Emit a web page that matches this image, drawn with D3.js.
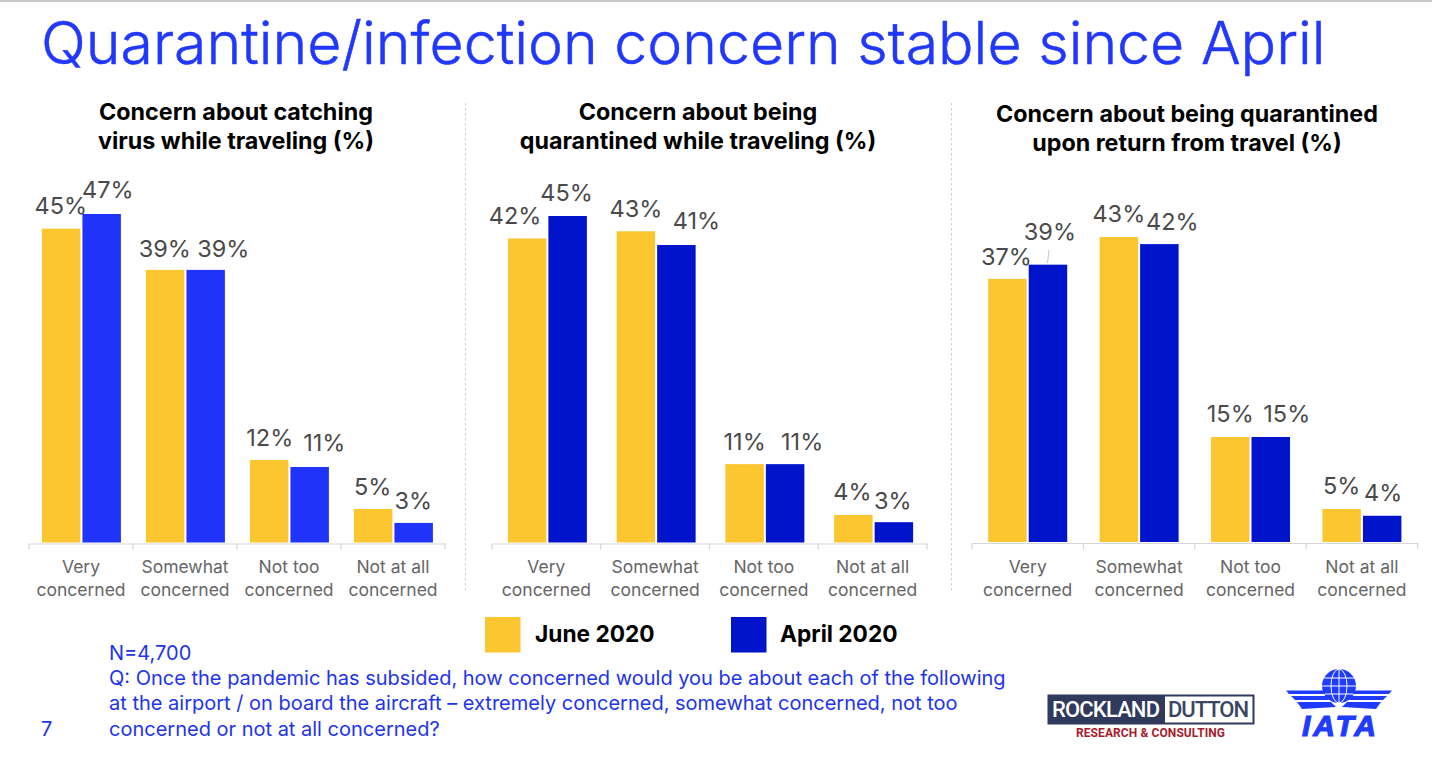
<!DOCTYPE html>
<html><head><meta charset="utf-8">
<script src="https://cdnjs.cloudflare.com/ajax/libs/d3/7.8.5/d3.min.js"></script>
<style>html,body{margin:0;padding:0;background:#fff;overflow:hidden}svg{display:block;font-family:Inter,"Noto Sans",sans-serif}</style>
</head><body><svg id="c" width="1432" height="772"></svg>
<script>
const titleText = "Quarantine/infection concern stable since April";
const categories = ["Very concerned","Somewhat concerned","Not too concerned","Not at all concerned"];
const seriesNames = ["June 2020","April 2020"];
const panelTitles = [
  ["Concern about catching","virus while traveling (%)"],
  ["Concern about being","quarantined while traveling (%)"],
  ["Concern about being quarantined","upon return from travel (%)"]
];
const june1 = [44.9, 39, 11.8, 4.8];
const april1 = [47, 39, 10.8, 2.8];
const june2 = [41.9, 42.9, 10.8, 3.8];
const april2 = [45, 41, 10.8, 2.8];
const june3 = [37.1, 43, 14.8, 4.65];
const april3 = [39.1, 42, 14.8, 3.7];
const footnotes = [
  "N=4,700",
  "Q: Once the pandemic has subsided, how concerned would you be about each of the following",
  "at the airport / on board the aircraft – extremely concerned, somewhat concerned, not too",
  "concerned or not at all concerned?"
];

const svg = d3.select("#c");
const YEL="#FCC630", BLUE_LIGHT="#1F33FB", BLUE_DARK="#0014CC", TXT="#4a4a4a", LINK="#2233EE";

// page edge
svg.append("rect").attr("width",1432).attr("height",2).attr("fill","#c8c8c8");
svg.append("text").attr("x",41).attr("y",64).attr("font-size",59).attr("font-weight",300).attr("stroke","#2137FB").attr("stroke-width",0.5).attr("fill","#2137FB").text(titleText);

const panels = [
  {june:june1,april:april1,title:panelTitles[0],x0:29,x1:445,yTop:214,max:47,titleX:236,titleY:120,blue:BLUE_LIGHT,base:542.5,shift:0.4,
   ndx:[[0,6.5],[0,18],[1,15],[0,0]],ndy:[[-23,-24],[-21,-21],[-22,-24],[-22,-22]]},
  {june:june2,april:april2,title:panelTitles[1],x0:492,x1:927,yTop:216,max:45,titleX:698,titleY:120,blue:BLUE_DARK,base:542.5,shift:1,
   ndx:[[-11,0],[1,21],[1,18],[0,0]],ndy:[[-23,-23],[-23,-24],[-23,-23],[-23,-22]]},
  {june:june3,april:april3,title:panelTitles[2],x0:972,x1:1417.6,yTop:237,max:43,titleX:1187,titleY:122,blue:BLUE_DARK,base:542,shift:0,
   ndx:[[-1,2],[0,13],[0,16],[0,1]],ndy:[[-22,-33],[-23,-23],[-23,-23],[-23,-23]]}
];

panels.forEach(p=>{
  const g = svg.append("g");
  const x = d3.scaleBand().domain(categories).range([p.x0,p.x1]);
  const xs = d3.scaleBand().domain(seriesNames).range([0,79]).paddingInner(0.05);
  const y = d3.scaleLinear().domain([0,p.max]).range([p.base,p.yTop]);
  const off = (x.bandwidth()-79)/2;
  seriesNames.forEach((s,si)=>{
    const vals = si===0?p.june:p.april;
    const col = si===0?YEL:p.blue;
    g.selectAll(null).data(categories).join("rect")
      .attr("x",c=>x(c)+off+xs(s)+p.shift).attr("width",xs.bandwidth())
      .attr("y",(c,i)=>y(vals[i])).attr("height",(c,i)=>y(0)-y(vals[i])).attr("fill",col);
    g.selectAll(null).data(categories).join("text")
      .attr("x",(c,i)=>x(c)+off+xs(s)+xs.bandwidth()/2+p.ndx[i][si])
      .attr("y",(c,i)=>y(vals[i])+p.ndy[i][si]).attr("dy","0.36em")
      .attr("text-anchor","middle").attr("font-size",23.5).attr("fill",TXT)
      .text((c,i)=>Math.round(vals[i])+"%");
  });
  // axis
  const axisY = p.base+1;
  const ax = g.append("g").attr("transform",`translate(0,${axisY})`)
    .call(d3.axisBottom(x).tickSize(0).tickFormat(""));
  ax.select(".domain").attr("stroke","#d6d6d6").attr("stroke-width",1.2);
  const edges = categories.map(c=>x(c)).concat([p.x1]);
  g.selectAll(null).data(edges).join("line")
    .attr("x1",d=>d).attr("x2",d=>d).attr("y1",axisY).attr("y2",axisY+6).attr("stroke","#d6d6d6").attr("stroke-width",1.2);
  categories.forEach(c=>{
    const parts=c.split(/ (?=concerned)/);
    const t=g.append("text").attr("text-anchor","middle").attr("font-size",17.5).attr("fill","#666");
    parts.forEach((s,i)=>t.append("tspan").attr("x",x(c)+x.bandwidth()/2).attr("y",573+i*23).text(s));
  });
  p.title.forEach((s,i)=>g.append("text").attr("x",p.titleX).attr("y",p.titleY+i*29)
    .attr("text-anchor","middle").attr("font-size",23.3).attr("font-weight",700).attr("fill","#000").text(s));
});

// leader line for the 39% label
svg.append("line").attr("x1",1049).attr("x2",1047.5).attr("y1",250).attr("y2",263).attr("stroke","#c4c4c4").attr("stroke-width",1);

// separators
[465.5,951.5].forEach(xx=>svg.append("line").attr("x1",xx).attr("x2",xx).attr("y1",103).attr("y2",590)
  .attr("stroke","#cfcfcf").attr("stroke-width",1).attr("stroke-dasharray","2.5 2.5"));

// legend
const legendX = [485,731], legendTextX=[535,780];
seriesNames.forEach((s,i)=>{
  svg.append("rect").attr("x",legendX[i]).attr("y",617).attr("width",35.5).attr("height",35.5).attr("fill",i?BLUE_DARK:YEL);
  svg.append("text").attr("x",legendTextX[i]).attr("y",642).attr("font-size",22.7).attr("font-weight",700).attr("fill","#000").text(s);
});

// footnotes
const footY=[660,685,710,736];
footnotes.forEach((s,i)=>svg.append("text").attr("x",109).attr("y",footY[i]).attr("font-size",20).attr("fill",LINK).text(s));
svg.append("text").attr("x",41).attr("y",736).attr("font-size",20).attr("fill",LINK).text("7");

// Rockland Dutton logo
const lg=svg.append("g");
lg.append("rect").attr("x",1047.5).attr("y",694.5).attr("width",207).attr("height",30).attr("fill","#2F3A5C");
lg.append("rect").attr("x",1165).attr("y",696.5).attr("width",87.5).attr("height",26).attr("fill","#fff");
lg.append("text").attr("x",1052).attr("y",717).attr("font-family","Roboto").attr("font-weight",500).attr("font-size",22).attr("fill","#fff").attr("textLength",108).text("ROCKLAND");
lg.append("text").attr("x",1168).attr("y",717).attr("font-family","Roboto").attr("font-weight",500).attr("font-size",22).attr("fill","#3b4563").attr("textLength",81).text("DUTTON");
lg.append("text").attr("x",1150.5).attr("y",737).attr("text-anchor","middle").attr("font-family","Roboto").attr("font-weight",700).attr("font-size",12).attr("fill","#A81C2C").attr("textLength",149).text("RESEARCH & CONSULTING");

// IATA logo
const ia=svg.append("g").attr("fill","#1F3BFF");
ia.append("circle").attr("cx",1339).attr("cy",686).attr("r",17);
const gl=ia.append("g").attr("fill","none").attr("stroke","#fff").attr("stroke-width",1);
gl.append("ellipse").attr("cx",1339).attr("cy",686).attr("rx",8).attr("ry",17);
gl.append("line").attr("x1",1339).attr("x2",1339).attr("y1",669).attr("y2",703);
[678,686,694].forEach(yy=>gl.append("line").attr("x1",1322).attr("x2",1356).attr("y1",yy).attr("y2",yy));
const wing=[[[1286,690.5],[1323,690.5],[1325,694],[1289,694]],[[1291,696],[1326,696],[1329,700],[1295,700]],[[1297,702],[1331,702],[1336,707],[1302,709]]];
wing.forEach(w=>{
  ia.append("polygon").attr("points",w.map(d=>d.join(",")).join(" "));
  ia.append("polygon").attr("points",w.map(d=>[2678-d[0],d[1]].join(",")).join(" "));
});
ia.append("text").attr("x",1339).attr("y",736).attr("text-anchor","middle").attr("font-family","Liberation Sans").attr("font-style","italic").attr("font-weight",700).attr("font-size",30).attr("stroke","#1F3BFF").attr("stroke-width",1.2).attr("textLength",74).text("IATA");
</script></body></html>
